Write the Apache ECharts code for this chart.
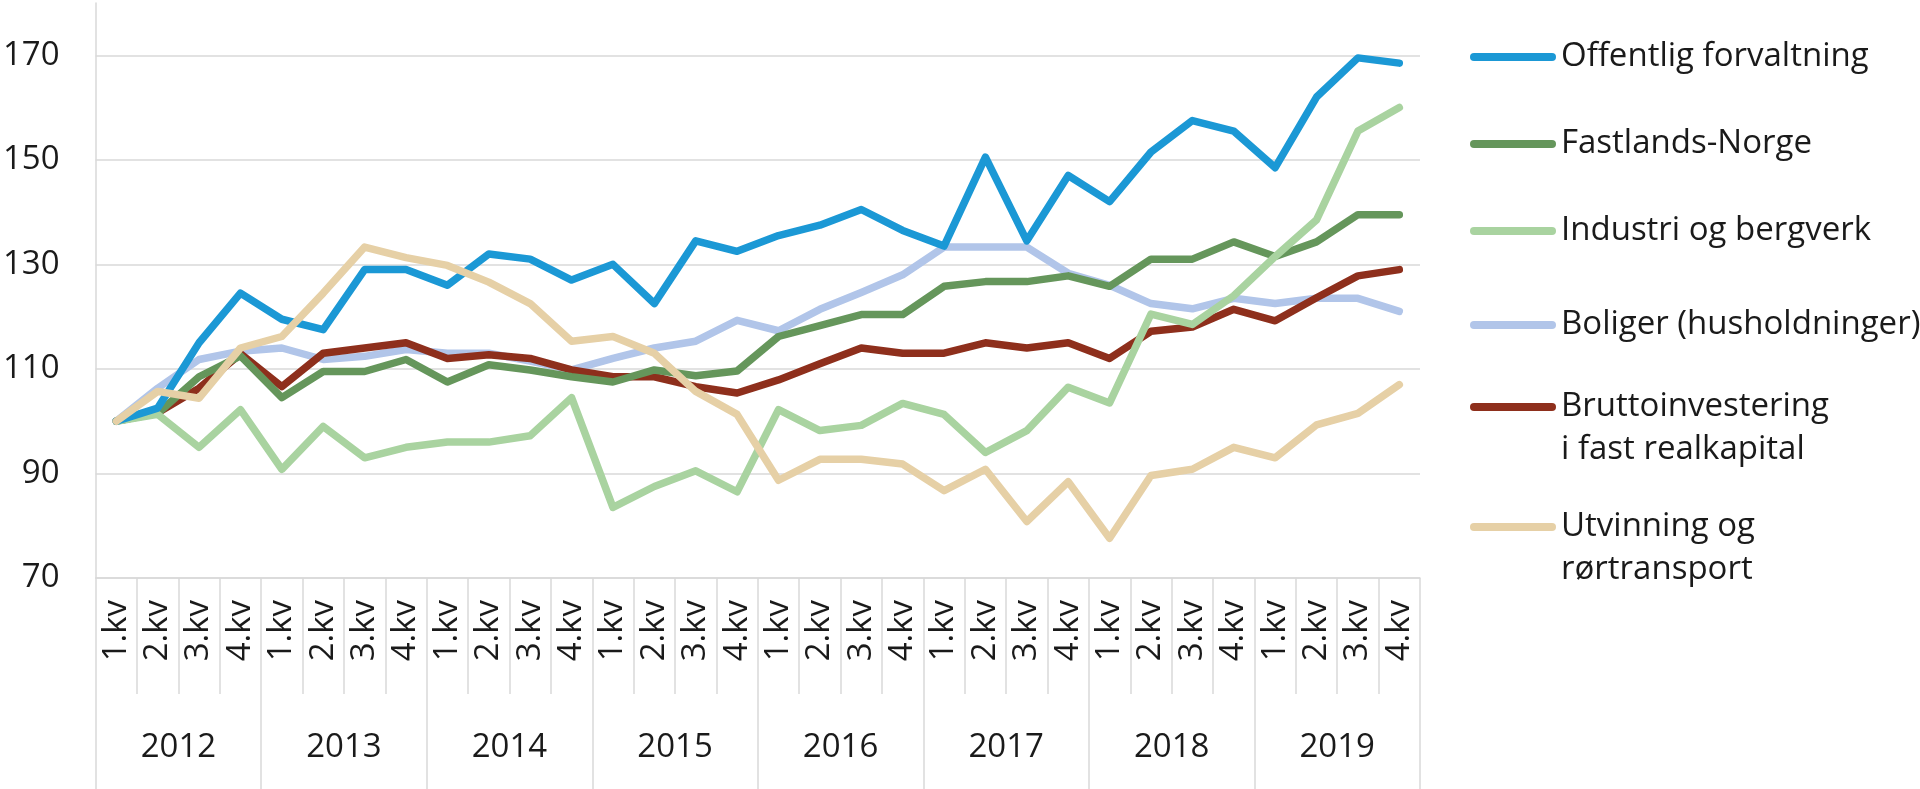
<!DOCTYPE html>
<html>
<head>
<meta charset="utf-8">
<script src="https://cdn.jsdelivr.net/npm/echarts@6/dist/echarts.min.js"></script>
<style>
html,body{margin:0;padding:0;background:#fff;}
#c{width:1920px;height:789px;}
</style>
</head>
<body>
<div id="c"></div>
<script>
const quarters = ['1.kv','2.kv','3.kv','4.kv'];
const years = ['2012','2013','2014','2015','2016','2017','2018','2019'];
const categories = [];
years.forEach(y => quarters.forEach(q => categories.push(q + ' ' + y)));

const offentlig = [100,102.5,115,124.5, 119.5,117.5,129,129, 126,132,131,127, 130,122.5,134.5,132.5, 135.5,137.5,140.5,136.5, 133.5,150.5,134.5,147, 142,151.5,157.5,155.5, 148.5,162,169.5,168.5];
const fastlands = [100,101.5,108.5,112.5, 104.5,109.5,109.5,111.8, 107.5,110.8,109.8,108.5, 107.5,109.8,108.7,109.6, 116.2,118.3,120.4,120.4, 125.8,126.7,126.7,127.8, 125.8,131,131,134.3, 131.5,134.3,139.5,139.5];
const industri = [100,101.3,95,102.2, 90.8,99,93,95, 96,96,97.2,104.5, 83.5,87.5,90.5,86.5, 102.2,98.2,99.2,103.4, 101.3,94,98.2,106.5, 103.5,120.5,118.5,124, 131.5,138.5,155.5,160];
const boliger = [100,106.3,111.8,113.4, 114,111.8,112.4,113.7, 113,113,111.5,109.8, 112,114,115.3,119.3, 117.3,121.4,124.6,128, 133.3,133.3,133.3,128.3, 126,122.5,121.5,123.5, 122.5,123.5,123.5,121];
const brutto = [100,101.6,106.3,112.9, 106.6,113,114,115, 112,112.7,112,109.8, 108.5,108.5,106.6,105.4, 107.9,111,114,113, 113,115,114,115, 112,117.2,118,121.4, 119.2,123.6,127.8,129];
const utvinning = [100,105.7,104.4,114, 116.2,124.5,133.3,131.3, 129.8,126.6,122.5,115.3, 116.2,113,105.7,101.3, 88.7,92.7,92.7,91.8, 86.7,90.8,80.8,88.4, 77.6,89.6,90.8,95, 93,99.3,101.5,107];

const seriesNames = ['Offentlig forvaltning','Fastlands-Norge','Industri og bergverk','Boliger (husholdninger)','Bruttoinvestering i fast realkapital','Utvinning og rørtransport'];
const legendLabels = ['Offentlig forvaltning','Fastlands-Norge','Industri og bergverk','Boliger (husholdninger)','Bruttoinvestering\ni fast realkapital','Utvinning og\nrørtransport'];
const yTicks = [70,90,110,130,150,170];

const colors = {
  'Offentlig forvaltning':'#1b98d5',
  'Fastlands-Norge':'#65965b',
  'Industri og bergverk':'#a9d3a0',
  'Boliger (husholdninger)':'#b1c5e9',
  'Bruttoinvestering i fast realkapital':'#8e2f1c',
  'Utvinning og rørtransport':'#e6d0a6'
};
const dataByName = {
  'Offentlig forvaltning':offentlig,
  'Fastlands-Norge':fastlands,
  'Industri og bergverk':industri,
  'Boliger (husholdninger)':boliger,
  'Bruttoinvestering i fast realkapital':brutto,
  'Utvinning og rørtransport':utvinning
};
const drawOrder = ['Boliger (husholdninger)','Bruttoinvestering i fast realkapital','Fastlands-Norge','Industri og bergverk','Offentlig forvaltning','Utvinning og rørtransport'];

const FONT = 'Open Sans';
const TXT = '#1a1a1a';
const GRID = '#d9d9d9';
const LH = 43;

const legendCenters = [53,140,227,321,407,527];
const legends = seriesNames.map((n,i) => {
  const twoLine = legendLabels[i].indexOf('\n') >= 0;
  return {
    data:[n],
    left:1470,
    top: twoLine ? legendCenters[i] - (LH*3/2) : legendCenters[i] - LH/2 + 4,
    orient:'vertical',
    padding:0,
    itemWidth:86,
    itemHeight:8,
    icon:'path://M4 0H82A4 4 0 0 1 82 8H4A4 4 0 0 1 4 0Z',
    selectedMode:false,
    formatter: () => twoLine ? ' \n' + legendLabels[i] : legendLabels[i],
    textStyle:{fontFamily:FONT,fontSize:33,color:TXT,lineHeight:LH}
  };
});

const chart = echarts.init(document.getElementById('c'));
chart.setOption({
  animation:false,
  backgroundColor:'#fff',
  legend: legends,
  grid:{left:91,right:500,top:3,bottom:211,containLabel:false},
  xAxis:[
    {
      type:'category',
      data:categories,
      boundaryGap:true,
      position:'bottom',
      axisLine:{show:true,lineStyle:{color:GRID,width:1.5}},
      axisTick:{show:true,length:116,lineStyle:{color:GRID,width:1.5}},
      axisLabel:{rotate:90,margin:22,fontFamily:FONT,fontSize:33,color:TXT,interval:0,
        formatter:(v)=>v.split(' ')[0]},
      splitLine:{show:false}
    },
    {
      type:'category',
      data:years,
      boundaryGap:true,
      position:'bottom',
      offset:116,
      axisLine:{show:false},
      axisTick:{show:true,length:95,lineStyle:{color:GRID,width:1.5}},
      axisLabel:{margin:37,fontFamily:FONT,fontSize:33,color:TXT,interval:0},
      splitLine:{show:false}
    }
  ],
  yAxis:{
    type:'value',
    min:yTicks[0],
    max:180,
    interval:20,
    axisLine:{show:true,lineStyle:{color:GRID,width:1.5}},
    axisTick:{show:false},
    axisLabel:{margin:36,fontFamily:FONT,fontSize:33,color:TXT,showMaxLabel:false},
    splitLine:{show:true,showMaxLine:false,lineStyle:{color:GRID,width:1.5}}
  },
  series: drawOrder.map(n => ({
    name:n,
    type:'line',
    xAxisIndex:0,
    data:dataByName[n],
    showSymbol:false,
    symbol:'none',
    color:colors[n],
    lineStyle:{color:colors[n],width:7.5,cap:'round',join:'round'},
    emphasis:{disabled:true}
  }))
});
</script>
</body>
</html>
